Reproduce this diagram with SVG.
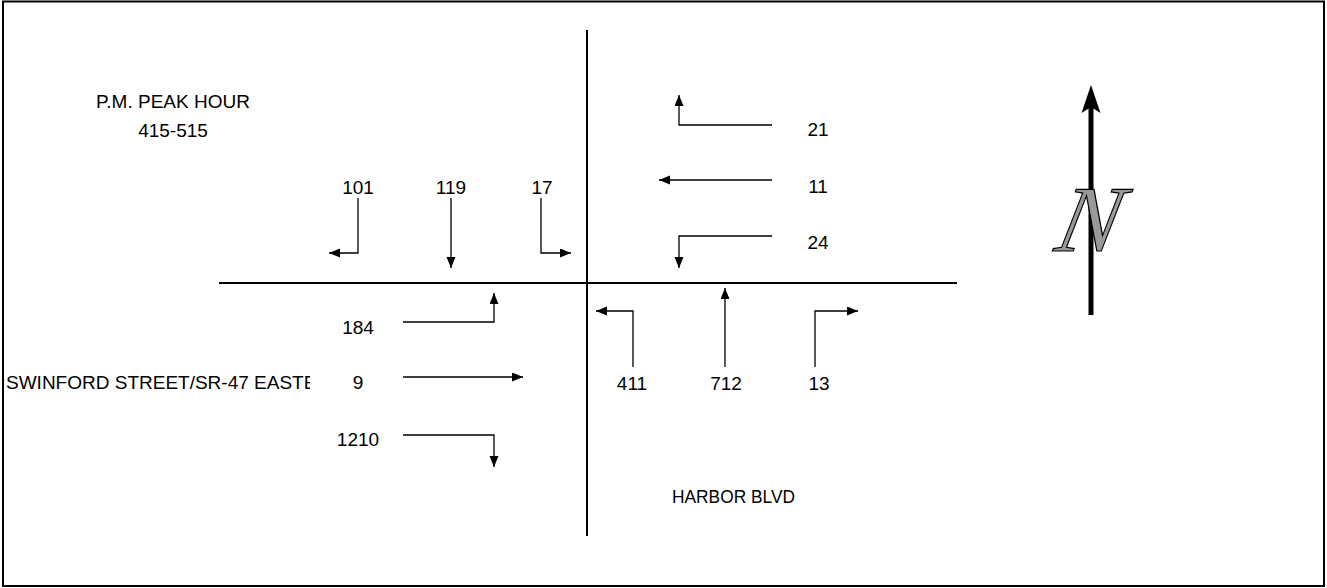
<svg xmlns="http://www.w3.org/2000/svg" width="1327" height="588" viewBox="0 0 1327 588">
<style>
text{font-family:"Liberation Sans",Arial,sans-serif;font-size:19px;fill:#000}
.c{text-anchor:middle}
.road{stroke:#000;stroke-width:2;fill:none}
.mv{stroke:#000;stroke-width:1.3;fill:none;marker-end:url(#ah)}
</style>
<defs>
<marker id="ah" markerUnits="userSpaceOnUse" markerWidth="12" markerHeight="10" refX="11" refY="4.5" orient="auto">
<path d="M0,0 L11,4.5 L0,9 z" fill="#000"/>
</marker>
<clipPath id="clipW"><rect x="0" y="360" width="310" height="40"/></clipPath>
</defs>
<rect x="0" y="0" width="1327" height="588" fill="#fff"/>
<rect x="3" y="1.5" width="1321" height="584.5" fill="none" stroke="#000" stroke-width="2"/>
<g id="roads">
<path class="road" d="M219,283 H957"/>
<path class="road" d="M587,30 V536"/>
</g>
<g id="title">
<text class="c" x="173" y="108">P.M. PEAK HOUR</text>
<text class="c" x="173" y="137">415-515</text>
</g>
<g id="street-ew"><text x="6" y="389" clip-path="url(#clipW)">SWINFORD STREET/SR-47 EASTB</text></g>
<g id="street-ns"><text x="672" y="503" textLength="123" lengthAdjust="spacingAndGlyphs">HARBOR BLVD</text></g>
<g id="sb-right"><text class="c" x="358" y="194">101</text></g>
<g id="sb-thru"><text class="c" x="451" y="194">119</text></g>
<g id="sb-left"><text class="c" x="542" y="194">17</text></g>
<g id="wb-right"><text class="c" x="818" y="136">21</text></g>
<g id="wb-thru"><text class="c" x="818" y="193">11</text></g>
<g id="wb-left"><text class="c" x="818" y="249">24</text></g>
<g id="eb-left"><text class="c" x="358" y="334">184</text></g>
<g id="eb-thru"><text class="c" x="358" y="389">9</text></g>
<g id="eb-right"><text class="c" x="358" y="446">1210</text></g>
<g id="nb-left"><text class="c" x="632" y="390">411</text></g>
<g id="nb-thru"><text class="c" x="726" y="390">712</text></g>
<g id="nb-right"><text class="c" x="819" y="390">13</text></g>
<g id="connectors">
<path class="mv" d="M358,198 V253 H329"/>
<path class="mv" d="M451,198 V268"/>
<path class="mv" d="M541,198 V253 H571"/>
<path class="mv" d="M772,125 H679 V95"/>
<path class="mv" d="M772,180 H659"/>
<path class="mv" d="M772,236 H679 V268"/>
<path class="mv" d="M403,322 H494 V293"/>
<path class="mv" d="M403,377 H523"/>
<path class="mv" d="M403,435 H494 V467"/>
<path class="mv" d="M633,367 V311 H596"/>
<path class="mv" d="M725,367 V288"/>
<path class="mv" d="M815,367 V311 H858"/>
</g>
<g id="north-arrow">
<path d="M1091,315 V106" stroke="#000" stroke-width="5" fill="none"/>
<polygon points="1091,85 1100.5,113 1091,107 1081.5,113" fill="#000"/>
<text x="1091" y="251" text-anchor="middle" transform="translate(1091,220) skewX(-12) translate(-1091,-220)" style="font-family:'Liberation Serif','DejaVu Serif',serif;font-style:italic;font-size:94px;fill:#999;stroke:#000;stroke-width:1.2">N</text>
</g>
</svg>
